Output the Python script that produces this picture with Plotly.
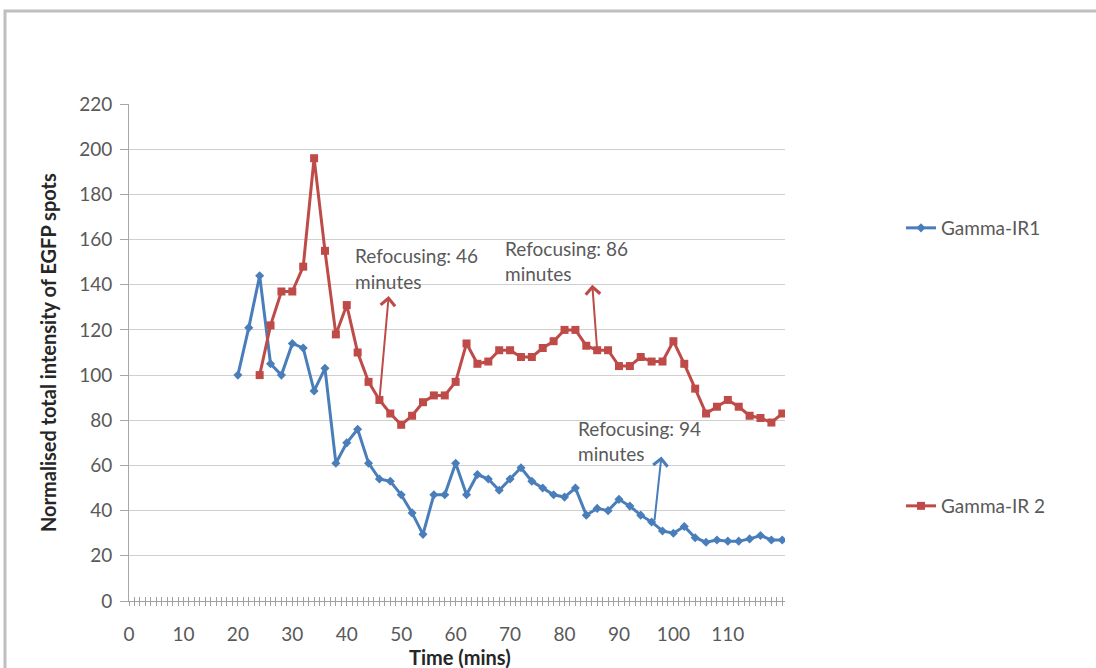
import plotly.graph_objects as go

# Sampling times (minutes) and normalised EGFP spot intensities
ir1_time = [20, 22, 24, 26, 28, 30, 32, 34, 36, 38, 40, 42, 44, 46, 48, 50, 52, 54, 56, 58,
            60, 62, 64, 66, 68, 70, 72, 74, 76, 78, 80, 82, 84, 86, 88, 90, 92, 94, 96, 98,
            100, 102, 104, 106, 108, 110, 112, 114, 116, 118, 120]
ir1_values = [100, 121, 144, 105, 100, 114, 112, 93, 103, 61,
              70, 76, 61, 54, 53, 47, 39, 29.5, 47, 47,
              61, 47, 56, 54, 49, 54, 59, 53, 50, 47,
              46, 50, 38, 41, 40, 45, 42, 38, 35, 31,
              30, 33, 28, 26, 27, 26.5, 26.5, 27.5, 29, 27,
              27]

ir2_time = [24, 26, 28, 30, 32, 34, 36, 38, 40, 42, 44, 46, 48, 50, 52, 54, 56, 58,
            60, 62, 64, 66, 68, 70, 72, 74, 76, 78, 80, 82, 84, 86, 88, 90, 92, 94, 96, 98,
            100, 102, 104, 106, 108, 110, 112, 114, 116, 118, 120]
ir2_values = [100, 122, 137, 137, 148, 196, 155, 118, 131, 110,
              97, 89, 83, 78, 82, 88, 91, 91, 97, 114,
              105, 106, 111, 111, 108, 108, 112, 115, 120, 120,
              113, 111, 111, 104, 104, 108, 106, 106, 115, 105,
              94, 83, 86, 89, 86, 82, 81, 79, 83]

series_names = ["Gamma-IR1", "Gamma-IR 2"]

x_tick_values = [0, 10, 20, 30, 40, 50, 60, 70, 80, 90, 100, 110]
x_tick_labels = ["0", "10", "20", "30", "40", "50", "60", "70", "80", "90", "100", "110"]
y_tick_values = [0, 20, 40, 60, 80, 100, 120, 140, 160, 180, 200, 220]

refocus_minutes = [46, 86, 94]

BLUE = "#4A7EBB"
RED = "#BE4B48"
TEXT = "#595959"
DARK = "#262626"
FONT = "Lato"
FS = 19

# plot area in pixels
L, R, T, B = 129, 311, 104, 67
W, H = 1096 - L - R, 668 - T - B


def px_x(p):
    return (p - L) / W


def px_y(p):
    return (668 - B - p) / H


X_RANGE = [0, 120.5]
minute_ticks = list(range(0, 121))
minute_text = [x_tick_labels[x_tick_values.index(m)] if m in x_tick_values else "" for m in minute_ticks]

fig = go.Figure()
fig.add_trace(go.Scatter(
    x=ir1_time, y=ir1_values, name=series_names[0], mode="lines+markers",
    line=dict(color=BLUE, width=3), marker=dict(symbol="diamond", size=7, color=BLUE),
    legend="legend",
))
fig.add_trace(go.Scatter(
    x=ir2_time, y=ir2_values, name=series_names[1], mode="lines+markers",
    line=dict(color=RED, width=3), marker=dict(symbol="square", size=8, color=RED),
    legend="legend2",
))
# helper trace so the inside-tick overlay axis is drawn
fig.add_trace(go.Scatter(x=[0], y=[0], xaxis="x2", mode="markers",
                         marker=dict(opacity=0), showlegend=False, hoverinfo="skip"))

annotations = []
# refocusing notes: (label left px, line1 centre px, line2 centre px)
note_pos = [(353, 255, 281), (503, 248, 273), (576, 428, 453)]
for minute, (lx, y1, y2) in zip(refocus_minutes, note_pos):
    for text, yy in ((f"Refocusing: {minute}", y1), ("minutes", y2)):
        annotations.append(dict(
            x=px_x(lx), y=px_y(yy), xref="paper", yref="paper", text=text,
            showarrow=False, xanchor="left", yanchor="middle",
            font=dict(family=FONT, size=FS, color=TEXT),
        ))

# arrows pointing at the refocusing moments: (tail x, tail y, head x, head y, colour)
arrows = [(46, 89, 47.7, 135, RED), (86, 111, 85.1, 140, RED), (96.5, 35, 97.8, 64, BLUE)]
for tx, ty, hx, hy, col in arrows:
    annotations.append(dict(
        x=hx, y=hy, ax=tx, ay=ty, xref="x", yref="y", axref="x", ayref="y",
        text="", showarrow=True, arrowhead=4, arrowsize=1.4, arrowwidth=2, arrowcolor=col,
        standoff=0, startstandoff=0,
    ))

annotations.append(dict(
    x=px_x(460), y=px_y(657), xref="paper", yref="paper", text="<b>Time (mins)</b>",
    showarrow=False, xanchor="center", yanchor="middle",
    font=dict(family=FONT, size=20, color=DARK),
))
annotations.append(dict(
    x=px_x(48), y=px_y(353), xref="paper", yref="paper",
    text="<b>Normalised total intensity of EGFP spots</b>", textangle=-90,
    showarrow=False, xanchor="center", yanchor="middle",
    font=dict(family=FONT, size=20, color=DARK),
))

fig.update_layout(
    width=1096, height=668,
    margin=dict(l=L, r=R, t=T, b=B),
    paper_bgcolor="white", plot_bgcolor="white",
    font=dict(family=FONT, size=FS, color=TEXT),
    xaxis=dict(
        range=X_RANGE, tickmode="array", tickvals=minute_ticks, ticktext=minute_text,
        ticks="outside", ticklen=4, tickcolor="#A0A0A0", tickwidth=1,
        showline=True, linecolor="#A0A0A0", linewidth=1, showgrid=False, zeroline=False,
        ticklabelstandoff=12, tickfont=dict(family=FONT, size=FS, color=TEXT),
    ),
    xaxis2=dict(
        range=X_RANGE, overlaying="x", anchor="y", side="bottom", tickmode="array",
        tickvals=minute_ticks, ticks="inside", ticklen=4, tickcolor="#A0A0A0", tickwidth=1,
        showticklabels=False, showline=False, showgrid=False, zeroline=False,
    ),
    yaxis=dict(
        range=[0, 220], tickmode="array", tickvals=y_tick_values,
        ticks="outside", ticklen=8, tickcolor="#A6A6A6",
        showline=True, linecolor="#A6A6A6", linewidth=1,
        showgrid=True, gridcolor="#CFCFCF", gridwidth=1, zeroline=False,
        ticklabelstandoff=4, tickfont=dict(family=FONT, size=FS, color=TEXT),
    ),
    legend=dict(x=px_x(901), y=px_y(228), xanchor="left", yanchor="middle",
                font=dict(family=FONT, size=FS, color=TEXT), bgcolor="rgba(0,0,0,0)"),
    legend2=dict(x=px_x(901), y=px_y(506), xanchor="left", yanchor="middle",
                 font=dict(family=FONT, size=FS, color=TEXT), bgcolor="rgba(0,0,0,0)"),
    annotations=annotations,
    shapes=[dict(type="rect", xref="paper", yref="paper",
                 x0=px_x(5), y0=px_y(700), x1=px_x(1120), y1=px_y(11),
                 line=dict(color="#BFBFBF", width=3), fillcolor="rgba(0,0,0,0)", layer="below")],
)

fig.write_html("out.html")
